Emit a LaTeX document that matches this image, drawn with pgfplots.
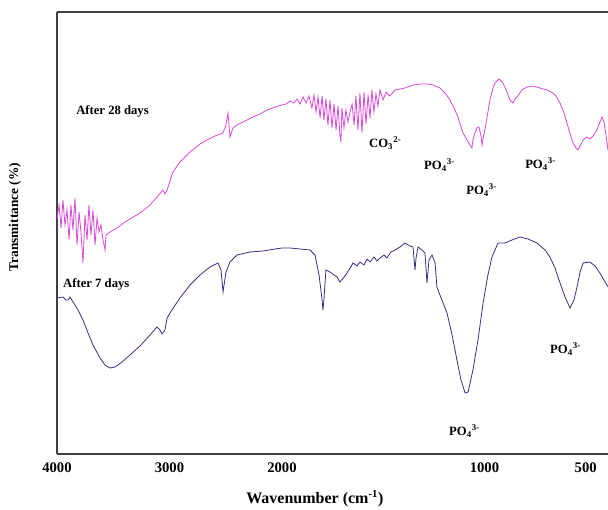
\documentclass[border=0pt]{standalone}
\usepackage{fontspec}
\setmainfont{Liberation Serif}
\usepackage{pgfplots}
\usepackage{pgfplotstable}
\pgfplotsset{compat=1.18}

\definecolor{mag}{RGB}{218,72,218}
\definecolor{navy}{RGB}{50,50,135}

% wavenumber (cm^-1) and transmittance (arbitrary)
\pgfplotstableread{
w t
4000 235
3982 249
3964 226
3947 254
3929 229
3911 244
3893 214
3876 249
3858 224
3840 256
3822 209
3804 242
3787 222
3769 191
3751 239
3733 214
3716 249
3698 219
3680 244
3662 209
3644 236
3627 222
3609 229
3591 214
3573 204
3564 219
3529 222
3467 226
3396 232
3262 241
3173 249
3111 257
3058 264
3040 260
3022 264
2969 282
2907 292
2818 302
2729 310
2667 314
2596 318
2524 321
2498 329
2480 341
2471 329
2462 317
2436 326
2400 329
2329 333
2258 337
2196 340
2133 344
2062 347
2000 349
1980 350
1960 353
1941 351
1926 355
1911 350
1896 357
1881 351
1867 358
1852 346
1842 359
1832 342
1822 357
1812 336
1802 358
1793 334
1783 355
1773 329
1763 354
1753 326
1743 350
1733 324
1723 348
1714 319
1709 312
1704 346
1694 326
1684 344
1674 332
1664 342
1654 350
1644 329
1635 358
1625 324
1615 361
1605 321
1595 362
1585 330
1575 359
1565 336
1556 364
1546 342
1536 360
1526 348
1516 364
1501 354
1486 362
1467 358
1442 364
1417 365
1393 366
1353 369
1319 370
1284 370
1254 369
1220 366
1195 361
1170 354
1146 344
1131 337
1116 327
1106 321
1086 314
1072 309
1062 306
1057 314
1047 321
1037 326
1027 327
1017 318
1012 309
1007 316
998 324
983 342
973 354
958 366
948 371
928 375
909 371
889 362
874 354
859 351
849 355
839 357
815 364
790 367
760 368
726 366
691 364
662 361
647 358
627 351
607 341
593 331
578 321
563 311
548 306
538 304
528 308
513 314
494 317
479 315
464 318
445 324
430 332
420 337
410 332
400 319
390 304
}\dayxxviii

\pgfplotstableread{
w t
4000 156
3947 157
3920 154
3902 154
3884 157
3858 152
3840 149
3813 144
3769 134
3724 121
3680 109
3618 96
3573 89
3529 86
3484 87
3422 92
3351 99
3262 108
3173 119
3111 127
3084 124
3067 120
3040 124
3022 136
2978 144
2907 156
2818 169
2729 179
2640 187
2569 191
2542 184
2524 162
2498 182
2462 192
2400 199
2284 202
2169 203
2062 205
2000 206
1960 206
1911 205
1862 204
1837 199
1817 179
1802 154
1798 144
1793 154
1783 184
1763 182
1743 179
1728 177
1714 172
1689 178
1669 184
1649 191
1630 188
1615 192
1595 189
1580 195
1565 192
1546 197
1531 193
1516 196
1496 199
1482 196
1462 202
1442 204
1417 207
1393 211
1368 208
1353 207
1343 184
1338 196
1328 207
1309 204
1294 201
1284 171
1274 194
1259 199
1244 191
1235 167
1220 159
1185 141
1160 119
1136 94
1116 74
1096 61
1081 62
1057 84
1032 114
1007 151
983 179
963 197
933 211
899 211
864 214
825 217
785 215
741 211
701 204
677 197
652 186
627 171
602 157
578 146
558 154
543 167
528 182
513 191
479 192
454 188
430 181
410 174
390 167
}\dayvii

\tikzset{lab/.style={anchor=west, inner sep=0pt, font=\bfseries\fontsize{9.5}{10}\selectfont}}

\begin{document}
\begin{tikzpicture}[x=0.75pt,y=0.75pt]
\useasboundingbox (-57,-56) rectangle (551,454);
\begin{axis}[
  scale only axis,
  width=413.25pt, height=331.5pt,
  xmin=0, xmax=4898, ymin=0, ymax=442,
  axis x line*=bottom, axis y line*=left,
  axis line style={line width=1.1pt, black!75, -},
  ytick=\empty,
  xtick={0,1000,2000,3800,4700},
  xticklabels={4000,3000,2000,1000,500},
  major tick length=0pt,
  xticklabel style={font=\bfseries\fontsize{11}{11}\selectfont, anchor=center, yshift=-10.5pt},
  xlabel={Wavenumber (cm\textsuperscript{-1})},
  xlabel style={font=\bfseries\fontsize{12}{12}\selectfont, at={(axis description cs:0.468,-0.1018)}, anchor=center},
  ylabel={Transmittance (\%)},
  ylabel style={font=\bfseries\fontsize{10}{10}\selectfont, at={(axis description cs:-0.0762,0.536)}, anchor=center},
  clip=false,
]
\addplot[mag, line width=0.6pt] table[x expr={\thisrow{w}>2000 ? 4000-\thisrow{w} : 2000+1.8*(2000-\thisrow{w})}, y=t] {\dayxxviii};
\addplot[navy, line width=0.6pt] table[x expr={\thisrow{w}>2000 ? 4000-\thisrow{w} : 2000+1.8*(2000-\thisrow{w})}, y=t] {\dayvii};
\draw[line width=1.1pt, black!75] (axis cs:0,442) -- (axis cs:4898,442);
\node[lab] at (axis cs:169,343) {After 28 days};
\node[lab] at (axis cs:53,170) {After 7 days};
\node[lab] at (axis cs:2773,311) {CO\textsubscript{3}\textsuperscript{2-}};
\node[lab] at (axis cs:3262,289) {PO\textsubscript{4}\textsuperscript{3-}};
\node[lab] at (axis cs:3636,264) {PO\textsubscript{4}\textsuperscript{3-}};
\node[lab] at (axis cs:4160,290) {PO\textsubscript{4}\textsuperscript{3-}};
\node[lab] at (axis cs:4382,105) {PO\textsubscript{4}\textsuperscript{3-}};
\node[lab] at (axis cs:3484,23) {PO\textsubscript{4}\textsuperscript{3-}};
\end{axis}
\end{tikzpicture}
\end{document}
